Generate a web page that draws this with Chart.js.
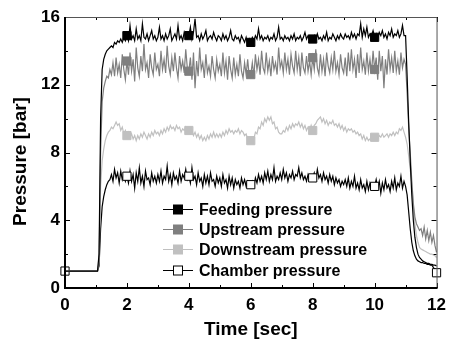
<!DOCTYPE html>
<html>
<head>
<meta charset="utf-8">
<script src="https://cdn.jsdelivr.net/npm/chart.js@4/dist/chart.umd.min.js"></script>
<style>
  html, body { margin: 0; padding: 0; background: #ffffff; }
  #wrap { width: 453px; height: 345px; }
</style>
</head>
<body>
<div id="wrap"><canvas id="c" width="453" height="345"></canvas></div>
<script>
// ---- data ----
const seriesNames = ["Feeding pressure", "Upstream pressure", "Downstream pressure", "Chamber pressure"];
const yAxisTitle = "Pressure [bar]";
const xAxisTitle = "Time [sec]";
const sampleStep = 0.05;          // sec between samples
const xTicks = [0, 2, 4, 6, 8, 10, 12];
const yTicks = [0, 4, 8, 12, 16];
const markerTimes = [2, 4, 6, 8, 10];
const chamberMarkerTimes = [0, 2, 4, 6, 8, 10, 12];

const feeding = [
  1.0,1.0,1.0,1.0,1.0,1.0,1.0,1.0,1.0,1.0,1.0,1.0,1.0,1.0,1.0,1.0,1.0,1.0,1.0,1.0,
  1.0,1.0,2.0,10.0,12.9,13.5,13.8,14.0,14.1,14.2,14.3,14.2,14.5,14.4,14.6,14.5,14.7,14.5,14.8,14.6,
  14.9,14.6,15.5,14.7,14.9,14.6,15.3,14.7,14.9,14.6,15.6,14.8,14.7,15.0,14.6,14.9,15.2,14.7,14.9,14.6,
  14.8,15.4,14.7,14.9,14.6,15.0,14.7,14.9,15.3,14.6,14.8,15.0,14.7,15.5,14.7,14.9,14.6,15.1,14.8,14.7,
  14.9,15.4,14.7,15.1,15.9,14.8,14.9,14.6,15.0,14.7,14.9,15.2,14.6,14.8,14.9,14.7,15.1,14.8,14.6,14.9,
  14.8,14.6,15.0,14.7,14.9,14.6,14.8,15.2,14.7,14.6,14.9,14.7,14.8,14.5,14.9,14.7,14.5,14.8,14.4,14.7,
  14.5,14.8,14.6,14.9,14.7,15.3,14.7,14.9,14.6,14.8,14.7,14.9,14.6,14.8,14.7,15.0,14.6,14.8,15.4,14.7,
  14.8,14.6,14.9,14.7,14.8,14.6,14.9,14.7,15.0,14.6,14.8,14.7,14.9,14.6,14.8,15.1,14.7,14.9,14.6,14.8,
  14.7,14.9,14.6,15.0,14.7,14.8,14.6,14.9,14.7,15.1,14.6,14.8,14.7,15.0,14.8,14.6,14.9,14.7,15.0,14.8,
  14.7,15.0,14.8,14.9,14.7,15.1,14.8,15.0,14.7,15.0,14.9,15.6,14.8,15.3,14.9,15.4,14.8,15.0,14.9,15.2,
  14.8,15.0,14.7,15.1,14.9,15.2,14.8,15.0,14.7,15.1,14.9,15.3,14.8,15.0,14.9,15.2,14.8,15.0,15.5,14.9,
  14.9,12.5,9.8,7.5,5.5,4.0,3.0,2.4,2.0,1.8,1.7,1.6,1.55,1.5,1.45,1.45,1.4,1.4,1.35,1.35,
  1.3
];
const upstream = [
  1.0,1.0,1.0,1.0,1.0,1.0,1.0,1.0,1.0,1.0,1.0,1.0,1.0,1.0,1.0,1.0,1.0,1.0,1.0,1.0,
  1.0,1.0,1.5,8.0,11.0,11.8,12.2,12.5,12.4,12.9,12.6,13.3,12.5,13.6,12.7,13.2,12.4,13.8,12.9,12.3,
  13.4,12.6,13.9,12.8,13.5,12.2,14.2,13.0,12.5,13.7,12.8,14.4,12.9,13.3,12.4,13.8,13.0,12.6,13.9,12.9,
  13.2,12.5,14.0,12.9,13.5,12.7,14.3,13.1,12.6,13.6,12.8,13.9,13.0,12.4,13.7,12.9,13.4,12.7,14.1,13.0,
  12.8,13.6,12.3,13.9,11.8,13.4,12.5,14.2,12.9,13.3,12.4,13.8,12.7,13.1,12.5,13.7,12.9,12.4,13.5,12.8,
  13.2,12.5,13.9,12.7,13.4,12.3,13.7,12.9,12.4,13.6,12.6,13.2,12.5,13.8,12.8,12.4,13.3,12.6,13.5,12.5,
  12.6,13.3,12.5,13.8,12.9,13.5,12.6,14.0,13.0,12.7,13.9,12.8,13.4,12.5,13.7,12.9,13.3,12.6,14.2,13.0,
  13.4,12.7,13.9,12.9,13.5,12.6,13.8,13.1,12.7,14.0,12.9,13.6,12.5,13.9,13.0,12.7,13.7,12.8,13.4,12.6,
  13.6,12.9,14.1,13.0,12.6,13.8,12.8,13.5,12.5,13.9,13.1,12.7,13.6,12.9,14.0,12.8,13.3,12.6,13.8,13.0,
  12.7,13.6,12.5,13.9,12.8,14.1,12.9,13.5,12.4,13.8,12.7,14.2,12.9,13.4,12.6,13.9,12.8,13.5,12.7,14.0,
  12.9,13.6,12.3,14.0,12.8,13.7,11.8,13.5,12.6,14.1,12.9,13.6,12.7,14.0,12.8,13.4,12.6,13.9,13.0,13.5,
  13.2,11.5,9.5,8.0,6.3,5.0,4.2,3.8,3.6,3.4,3.5,3.1,3.6,2.9,3.4,2.8,3.3,2.7,3.1,2.5,
  2.1
];
const downstream = [
  1.0,1.0,1.0,1.0,1.0,1.0,1.0,1.0,1.0,1.0,1.0,1.0,1.0,1.0,1.0,1.0,1.0,1.0,1.0,1.0,
  1.0,1.0,1.8,6.0,7.5,8.2,8.7,9.0,9.2,9.3,9.5,9.4,9.6,9.8,9.6,9.7,9.3,9.5,9.1,9.3,
  9.0,9.2,8.9,9.1,8.8,9.0,8.7,9.0,8.8,9.1,8.9,9.2,9.0,8.8,9.1,8.9,9.2,9.0,9.3,9.1,
  9.2,9.0,9.3,9.1,9.4,9.2,9.5,9.3,9.6,9.4,9.5,9.3,9.6,9.4,9.5,9.2,9.4,9.3,9.5,9.2,
  9.3,9.1,9.3,9.0,9.2,8.9,9.1,8.8,9.0,8.7,8.9,8.7,9.0,8.8,9.1,8.9,9.2,8.9,9.1,8.9,
  9.1,8.9,9.2,9.0,9.3,9.1,9.4,9.2,9.3,9.1,9.3,9.2,9.4,9.1,9.3,9.2,9.0,9.1,8.8,8.9,
  8.7,8.9,8.8,9.2,9.1,9.5,9.4,9.8,9.6,10.0,9.8,10.1,9.9,10.1,9.7,9.8,9.4,9.5,9.2,9.1,
  9.1,9.3,9.2,9.5,9.3,9.6,9.4,9.7,9.5,9.7,9.6,9.8,9.5,9.7,9.4,9.6,9.3,9.5,9.3,9.6,
  9.3,9.6,9.7,9.9,10.0,10.1,9.8,10.0,9.7,9.9,9.6,9.8,9.7,9.9,9.6,9.7,9.5,9.7,9.4,9.6,
  9.3,9.5,9.2,9.4,9.3,9.4,9.2,9.3,9.1,9.2,9.0,9.1,8.8,9.0,8.7,8.9,8.7,8.8,8.8,8.9,
  8.9,9.0,8.8,9.0,8.9,9.1,8.9,9.0,9.1,8.9,9.1,9.0,9.2,9.0,9.2,9.1,9.4,9.3,9.5,9.2,
  8.9,8.5,7.8,7.0,6.2,4.8,3.8,3.1,2.7,2.4,2.3,2.25,2.2,2.15,2.1,2.05,2.0,2.0,1.95,1.9,
  1.8
];
const chamber = [
  1.0,1.0,1.0,1.0,1.0,1.0,1.0,1.0,1.0,1.0,1.0,1.0,1.0,1.0,1.0,1.0,1.0,1.0,1.0,1.0,
  1.0,1.0,1.3,3.5,4.8,5.4,5.8,6.1,6.3,6.4,6.7,6.3,7.0,6.5,6.8,6.2,6.9,6.4,6.7,6.3,
  6.6,6.2,6.9,6.3,6.7,5.9,6.8,6.3,7.1,6.2,6.6,6.0,6.9,6.4,6.5,6.1,6.8,6.3,6.6,6.2,
  6.7,6.3,6.9,6.2,6.6,6.4,7.2,6.3,6.7,6.1,6.8,6.4,6.6,6.2,6.9,6.3,6.7,6.5,7.0,6.4,
  6.6,6.2,7.1,6.4,6.6,6.1,6.8,6.3,6.5,6.0,6.7,6.2,6.6,6.1,6.8,6.3,6.4,6.0,6.6,6.2,
  6.5,6.0,6.7,6.2,6.4,5.9,6.6,6.1,6.5,5.9,6.4,6.1,6.3,5.9,6.5,6.1,6.4,6.0,6.3,6.1,
  6.1,6.3,6.0,6.5,6.2,6.7,6.3,6.6,6.2,6.8,6.4,6.9,6.3,6.7,6.4,7.1,6.3,6.6,6.4,6.8,
  6.4,7.0,6.5,6.8,6.3,6.7,6.5,6.9,6.4,6.7,6.6,7.1,6.5,6.8,6.4,6.6,6.3,6.7,6.4,6.6,
  6.5,6.8,6.4,7.0,6.5,6.7,6.3,6.8,6.4,6.6,6.2,6.7,6.3,6.6,6.1,6.5,6.2,6.4,6.0,6.3,
  6.1,6.4,6.0,6.5,5.9,6.3,6.0,6.6,5.9,6.2,5.8,6.4,5.9,6.1,5.7,6.3,5.8,6.2,5.9,6.1,
  6.0,6.4,5.9,6.3,5.6,6.2,5.8,6.4,5.9,6.1,5.7,6.3,5.9,6.5,5.8,6.2,6.0,6.6,5.9,6.3,
  6.0,5.5,4.5,3.5,2.7,2.2,1.9,1.7,1.6,1.55,1.5,1.5,1.45,1.45,1.4,1.4,1.35,1.35,1.2,1.1,
  0.9
];

// ---- build points on the sampling grid ----
function toPoints(values) {
  return values.map((v, i) => ({ x: Math.round(i * sampleStep * 100) / 100, y: v }));
}
function markerRadius(times, r) {
  return (ctx) => {
    const t = ctx.raw ? ctx.raw.x : null;
    return times.some(m => Math.abs(m - t) < 1e-6) ? r : 0;
  };
}

const lineColors = ["#000000", "#7f7f7f", "#c0c0c0", "#000000"];
const fillColors = ["#000000", "#7f7f7f", "#c0c0c0", "#ffffff"];
const markerBorder = ["#000000", "#7f7f7f", "#c0c0c0", "#000000"];
const allValues = [feeding, upstream, downstream, chamber];
const allMarkers = [markerTimes, markerTimes, markerTimes, chamberMarkerTimes];

const datasets = allValues.map((vals, k) => ({
  label: seriesNames[k],
  data: toPoints(vals),
  borderColor: lineColors[k],
  backgroundColor: fillColors[k],
  borderWidth: 1.2,
  pointStyle: 'rect',
  pointRadius: markerRadius(allMarkers[k], 5.8),
  pointHoverRadius: 0,
  pointBackgroundColor: fillColors[k],
  pointBorderColor: markerBorder[k],
  pointBorderWidth: 1,
  tension: 0,
  clip: false
}));

const FONT = '"Liberation Sans", Arial, sans-serif';

// frame + inward ticks + y-axis title
const framePlugin = {
  id: 'frame',
  afterDatasetsDraw(chart) {
    const { ctx, chartArea: a, scales: { x, y } } = chart;
    ctx.save();
    ctx.strokeStyle = '#000';
    ctx.lineWidth = 1;
    for (let t = 0; t <= 12; t += 1) {
      const px = Math.round(x.getPixelForValue(t)) + 0.5;
      const len = t % 2 === 0 ? 5 : 3;
      ctx.beginPath();
      ctx.moveTo(px, a.bottom); ctx.lineTo(px, a.bottom - len);
      ctx.moveTo(px, a.top); ctx.lineTo(px, a.top + len);
      ctx.stroke();
    }
    for (let v = 0; v <= 16; v += 2) {
      const py = Math.round(y.getPixelForValue(v)) + 0.5;
      const len = v % 4 === 0 ? 5 : 3;
      ctx.beginPath();
      ctx.moveTo(a.left, py); ctx.lineTo(a.left + len, py);
      ctx.moveTo(a.right, py); ctx.lineTo(a.right - len, py);
      ctx.stroke();
    }
    ctx.lineWidth = 1;
    ctx.strokeStyle = '#555';
    ctx.beginPath();
    ctx.moveTo(a.left, a.top + 0.5); ctx.lineTo(a.right + 0.5, a.top + 0.5);
    ctx.lineTo(a.right + 0.5, a.bottom);
    ctx.stroke();
    ctx.strokeStyle = '#000';
    ctx.lineWidth = 2;
    ctx.beginPath();
    ctx.moveTo(a.left, a.top); ctx.lineTo(a.left, a.bottom); ctx.lineTo(a.right + 1, a.bottom);
    ctx.stroke();
    // y-axis title
    ctx.translate(21, (a.top + a.bottom) / 2 + 9);
    ctx.rotate(-Math.PI / 2);
    ctx.font = 'bold 19px ' + FONT;
    ctx.fillStyle = '#000';
    ctx.textAlign = 'center';
    ctx.textBaseline = 'middle';
    ctx.fillText(yAxisTitle, 0, 0);
    ctx.restore();
  }
};

// legend: line + square + text, inside the plot
const legendPlugin = {
  id: 'innerLegend',
  afterDraw(chart) {
    const { ctx } = chart;
    const rows = [209, 229, 249, 270];
    const x0 = 163, x1 = 193, xm = 178, xt = 199, half = 4.5;
    ctx.save();
    ctx.font = 'bold 16px ' + FONT;
    ctx.textBaseline = 'middle';
    chart.data.datasets.forEach((ds, k) => {
      const yy = rows[k] + 0.5;
      ctx.strokeStyle = ds.borderColor;
      ctx.lineWidth = 1;
      ctx.beginPath(); ctx.moveTo(x0, yy); ctx.lineTo(x1, yy); ctx.stroke();
      ctx.fillStyle = ds.pointBackgroundColor;
      ctx.fillRect(xm - half, yy - half, 2 * half, 2 * half);
      ctx.strokeStyle = ds.pointBorderColor;
      ctx.strokeRect(xm - half, yy - half, 2 * half, 2 * half);
      ctx.fillStyle = '#000';
      ctx.fillText(ds.label, xt, yy + 1);
    });
    ctx.restore();
  }
};

new Chart(document.getElementById('c'), {
  type: 'line',
  data: { datasets },
  options: {
    responsive: false,
    animation: false,
    devicePixelRatio: 1,
    events: [],
    layout: { padding: { left: 0, top: 17, right: 16, bottom: 0 } },
    plugins: { legend: { display: false }, tooltip: { enabled: false } },
    scales: {
      x: {
        type: 'linear', min: 0, max: 12,
        afterBuildTicks: (s) => { s.ticks = xTicks.map(v => ({ value: v })); },
        afterFit: (s) => { s.height = 57; },
        grid: { display: false, drawTicks: false },
        border: { display: false },
        ticks: { color: '#000', padding: 7, maxRotation: 0,
                 font: { family: FONT, size: 17, weight: 'bold' } },
        title: { display: true, text: xAxisTitle, color: '#000',
                 padding: { top: 0, bottom: 4 },
                 font: { family: FONT, size: 19, weight: 'bold', lineHeight: 1.2 } }
      },
      y: {
        type: 'linear', min: 0, max: 16,
        afterBuildTicks: (s) => { s.ticks = yTicks.map(v => ({ value: v })); },
        afterFit: (s) => { s.width = 65; },
        grid: { display: false, drawTicks: false },
        border: { display: false },
        ticks: { color: '#000', padding: 5,
                 font: { family: FONT, size: 17, weight: 'bold' } },
        title: { display: false }
      }
    }
  },
  plugins: [framePlugin, legendPlugin]
});
</script>
</body>
</html>
